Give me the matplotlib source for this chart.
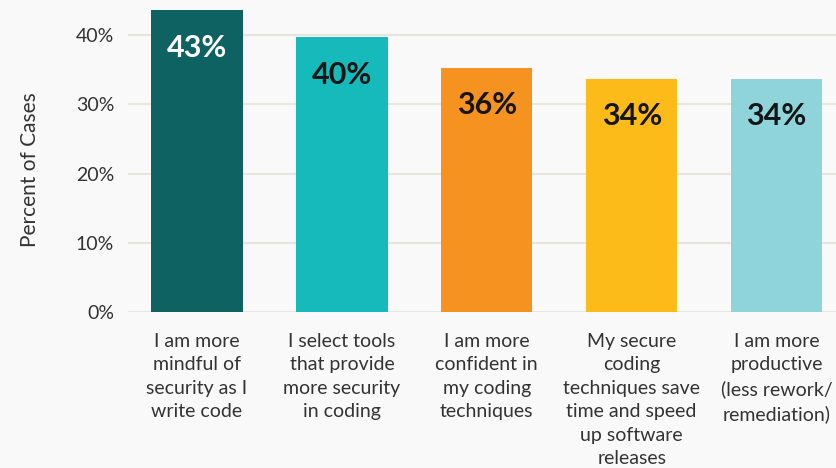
import matplotlib
matplotlib.use("Agg")
import matplotlib.pyplot as plt
from matplotlib.ticker import FuncFormatter

categories = [
    "I am more\nmindful of\nsecurity as I\nwrite code",
    "I select tools\nthat provide\nmore security\nin coding",
    "I am more\nconfident in\nmy coding\ntechniques",
    "My secure\ncoding\ntechniques save\ntime and speed\nup software\nreleases",
    "I am more\nproductive\n(less rework/\nremediation)",
]
values = [43.6, 39.7, 35.3, 33.7, 33.7]
value_labels = ["43%", "40%", "36%", "34%", "34%"]
colors = ["#0E6262", "#16BABA", "#F59220", "#FCBB18", "#8FD4DB"]
label_colors = ["#FFFFFF", "#151515", "#151515", "#151515", "#151515"]
yticks = [0, 10, 20, 30, 40]

plt.rcParams['font.family'] = ['Lato', 'DejaVu Sans']
bg = "#F9F9F9"
fig = plt.figure(figsize=(8.36, 4.68), dpi=100, facecolor=bg)
ax = fig.add_axes([128/836, 1 - 312/468, 1 - 128/836, 311.4/468])
ax.set_facecolor(bg)

x = list(range(len(categories)))
ax.bar(x, values, width=0.63, color=colors, zorder=3)
for xi, v, lab, c in zip(x, values, value_labels, label_colors):
    ax.annotate(lab, (xi, v), xytext=(0, -27), textcoords="offset points",
                ha="center", va="center", fontsize=22, fontweight="bold", color=c, zorder=4)

ax.set_xlim(-0.476, 4.41)
ax.set_ylim(0, 45)
ax.set_yticks(yticks)
ax.yaxis.set_major_formatter(FuncFormatter(lambda v, p: f"{int(v)}%"))
ax.grid(axis="y", color="#E6E6DF", linewidth=1.5, zorder=0)
ax.set_xticks(x)
ax.set_xticklabels(categories, fontsize=14, color="#333333", linespacing=1.46, va="top")
for s in ax.spines.values():
    s.set_visible(False)
ax.tick_params(axis="both", length=0)
ax.tick_params(axis="y", labelsize=14, labelcolor="#333333", pad=10)
ax.tick_params(axis="x", pad=15)
ax.set_ylabel("Percent of Cases", fontsize=15, color="#333333")
ax.yaxis.set_label_coords(-0.125, 0.456)

fig.savefig("out.png", dpi=100, facecolor=bg)
